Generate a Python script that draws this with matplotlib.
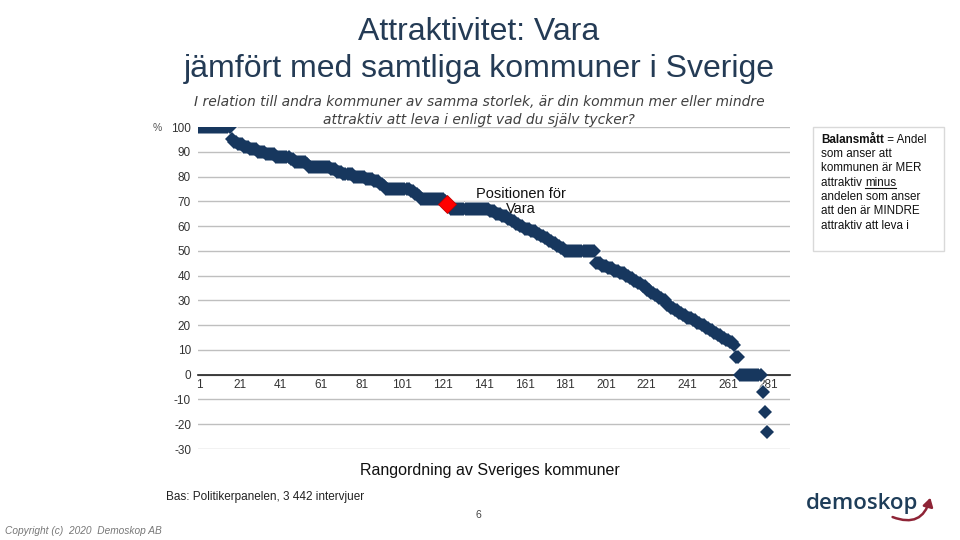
import numpy as np
import matplotlib
matplotlib.use("Agg")
from matplotlib import pyplot as plt
from matplotlib.patches import Rectangle, FancyArrowPatch

plt.rcParams['font.family'] = ['Liberation Sans', 'DejaVu Sans']
plt.rcParams['axes.unicode_minus'] = False

# balansmått per kommun, sorterat fallande (värde, antal kommuner i följd)
run_values = [100, 95, 94, 93, 92, 91, 90, 89, 88, 87, 86, 85, 84, 83, 82, 81, 80, 79, 78, 77, 76,
              75, 74, 73, 72, 71, 70, 69, 68, 67, 66, 65, 64, 63, 62, 61, 60, 59, 58, 57, 56,
              55, 54, 53, 52, 51, 50, 45, 44, 43, 42, 41, 40, 39, 38, 37, 36, 34, 33, 32, 31,
              30, 28, 27, 26, 25, 24, 23, 22, 21, 20, 19, 18, 17, 16, 15, 14, 13, 12, 7, 0,
              -7, -15, -23]
run_counts = [16, 1, 2, 3, 3, 4, 4, 5, 7, 2, 6, 1, 11, 3, 3, 5, 6, 4, 3, 2, 1,
              12, 2, 2, 1, 12, 1, 1, 1, 19, 3, 3, 3, 2, 2, 2, 2, 3, 3, 2, 2,
              2, 2, 2, 2, 2, 15, 3, 3, 3, 3, 3, 2, 2, 2, 2, 2, 2, 2, 2, 2,
              2, 2, 2, 2, 2, 2, 3, 2, 2, 2, 2, 2, 2, 2, 2, 2, 2, 1, 2, 11,
              1, 1, 1]
vara_rank = 123
x_ticks = [1, 21, 41, 61, 81, 101, 121, 141, 161, 181, 201, 221, 241, 261, 281]
y_ticks = [100, 90, 80, 70, 60, 50, 40, 30, 20, 10, 0, -10, -20, -30]

values = np.repeat(run_values, run_counts)
ranks = np.arange(1, len(values) + 1)

W, H = 960, 540
def fx(x):
    return x / W
def fy(y):
    return 1 - y / H

fig = plt.figure(figsize=(9.6, 5.4), dpi=100)
ax = fig.add_axes([fx(198), fy(449), (790 - 198) / W, (449 - 127) / H])

navy = '#17375E'
# vit kant under, mörkblå romber ovanpå
ax.plot(ranks, values, linestyle='none', marker='D', markersize=8.4,
        color='white', markeredgewidth=0, zorder=2)
ax.plot(ranks, values, linestyle='none', marker='D', markersize=7.2,
        color=navy, markeredgewidth=0, zorder=3)
ax.plot([vara_rank], [values[vara_rank - 1]], linestyle='none', marker='D', markersize=9.5,
        color='#FF0000', markeredgecolor='#C00000', markeredgewidth=0.6, zorder=4)

ax.set_xlim(0.5, 291.5)
ax.set_ylim(-30, 100)
ax.set_yticks(y_ticks)
ax.set_xticks(x_ticks)
ax.grid(axis='y', color='#BFBFBF', linewidth=1)
ax.set_axisbelow(True)
for s in ['top', 'right', 'left']:
    ax.spines[s].set_visible(False)
ax.spines['bottom'].set_position(('data', 0))
ax.spines['bottom'].set_color('#222222')
ax.spines['bottom'].set_linewidth(1.2)
ax.tick_params(axis='both', length=0, labelsize=8.5, labelcolor='#333333')
ax.tick_params(axis='y', pad=5)
ax.tick_params(axis='x', pad=3)

ax.text(159, 70, 'Positionen för\nVara', ha='center', va='center', fontsize=10.5,
        color='#111111', linespacing=1.1, zorder=5)

# rubriker
fig.text(fx(479), fy(32), 'Attraktivitet: Vara', ha='center', va='center',
         fontsize=23, color='#243B55')
fig.text(fx(479), fy(69), 'jämfört med samtliga kommuner i Sverige', ha='center', va='center',
         fontsize=23, color='#243B55')
fig.text(fx(479), fy(102), 'I relation till andra kommuner av samma storlek, är din kommun mer eller mindre',
         ha='center', va='center', fontsize=10, style='italic', family='DejaVu Sans', color='#404040')
fig.text(fx(479), fy(120), 'attraktiv att leva i enligt vad du själv tycker?',
         ha='center', va='center', fontsize=10, style='italic', family='DejaVu Sans', color='#404040')
fig.text(fx(157), fy(128), '%', ha='center', va='center', fontsize=7.5, color='#555555')

fig.text(fx(490), fy(470), 'Rangordning av Sveriges kommuner', ha='center', va='center',
         fontsize=11.5, color='#111111')
fig.text(fx(265), fy(497), 'Bas: Politikerpanelen, 3 442 intervjuer', ha='center', va='center',
         fontsize=8.5, color='#222222')
fig.text(fx(478), fy(515), '6', ha='center', va='center', fontsize=7.5, color='#444444')
fig.text(fx(5), fy(531), 'Copyright (c)  2020  Demoskop AB', ha='left', va='center',
         fontsize=7.3, style='italic', color='#777777')

# förklaringsruta
fig.patches.append(Rectangle((fx(813), fy(251)), (944 - 813) / W, (251 - 127) / H,
                             transform=fig.transFigure, facecolor='white',
                             edgecolor='#D9D9D9', linewidth=1))
box_lines = ['som anser att', 'kommunen är MER', None, 'andelen som anser',
             'att den är MINDRE', 'attraktiv att leva i']
box_y = [154, 168, 183, 197, 211, 226]
fs_box = 8.4
for line, y in zip(box_lines, box_y):
    if line:
        fig.text(fx(821), fy(y), line, ha='left', va='center', fontsize=fs_box, color='#111111')

renderer = fig.canvas.get_renderer()
t1 = fig.text(fx(821), fy(140), 'Balansmått', ha='left', va='center', fontsize=fs_box,
              weight='bold', color='#111111')
bb = t1.get_window_extent(renderer)
fig.text(bb.x1 / W, fy(140), ' = Andel', ha='left', va='center', fontsize=fs_box, color='#111111')
t2 = fig.text(fx(821), fy(183), 'attraktiv ', ha='left', va='center', fontsize=fs_box, color='#111111')
bb = t2.get_window_extent(renderer)
t3 = fig.text(bb.x1 / W, fy(183), 'minus', ha='left', va='center', fontsize=fs_box, color='#111111')
bb3 = t3.get_window_extent(renderer)
fig.lines.append(plt.Line2D([bb3.x0 / W, bb3.x1 / W], [(bb3.y0 + 1) / H] * 2,
                            transform=fig.transFigure, color='#111111', linewidth=0.8))

# logga
fig.text(fx(806), fy(503), 'demoskop', ha='left', va='center', fontsize=16,
         family=['Open Sans', 'Liberation Sans'], weight='semibold', color='#1E3D59')
fig.patches.append(FancyArrowPatch((fx(890), fy(516)), (fx(931), fy(495)),
                                   transform=fig.transFigure, connectionstyle='arc3,rad=0.6',
                                   arrowstyle='-|>,head_length=5,head_width=3',
                                   color='#8E2436', linewidth=1.8))

fig.savefig('out.png', dpi=100)
